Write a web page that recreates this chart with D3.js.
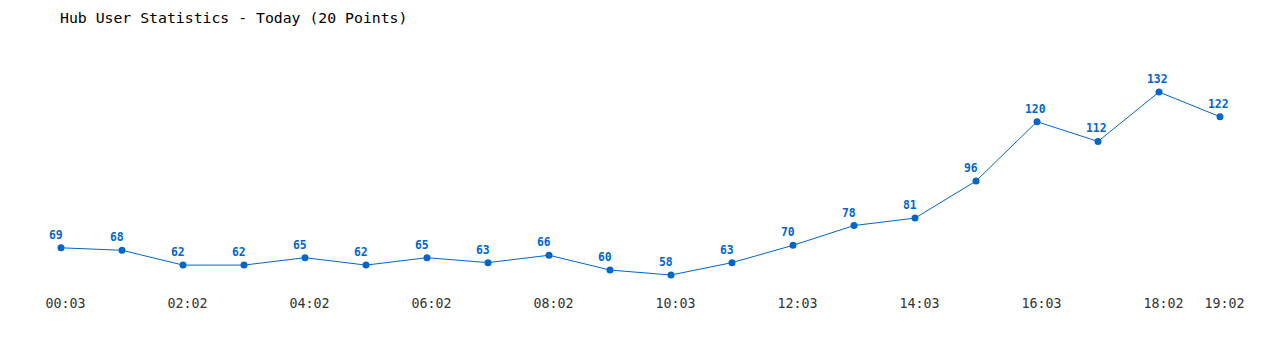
<!DOCTYPE html>
<html>
<head>
<meta charset="utf-8">
<script src="https://cdn.jsdelivr.net/npm/d3@7"></script>
<style>
	body { margin: 0; background: #fff; }
	svg { display: block; }
</style>
</head>
<body>
<svg id="chart"></svg>
<script>
// users counted at each sample point today
const USERS = [69, 68, 62, 62, 65, 62, 65, 63, 66, 60, 58, 63, 70, 78, 81, 96, 120, 112, 132, 122];
// which points get a time label on the x axis
const TICK_INDEX = [0, 2, 4, 6, 8, 10, 12, 14, 16, 18, 19];
const TICK_LABELS = ["00:03", "02:02", "04:02", "06:02", "08:02", "10:03", "12:03", "14:03", "16:03", "18:02", "19:02"];
const TITLE = "Hub User Statistics - Today (20 Points)";

const width = 1280;
const height = 350;
const blue = "#0066cc";
const mono = "'DejaVu Sans Mono', 'Liberation Mono', monospace";

const svg = d3.select("#chart")
	.attr("width", width)
	.attr("height", height)
	.attr("viewBox", [0, 0, width, height]);

const x = d3.scaleLinear()
	.domain([0, USERS.length - 1])
	.range([61, 1220]);

const y = d3.scaleLinear()
	.domain([d3.min(USERS), d3.max(USERS)])
	.range([275, 92]);

//title
svg.append("text")
	.attr("x", 60)
	.attr("y", 23)
	.attr("font-family", mono)
	.attr("font-size", 14.8)
	.attr("fill", "#000")
	.text(TITLE);

//x axis labels (no axis line in the original)
const xAxis = svg.append("g")
	.attr("transform", "translate(0, 308)")
	.call(d3.axisBottom(x)
		.tickValues(TICK_INDEX)
		.tickFormat((d, i) => TICK_LABELS[i])
		.tickSize(0)
		.tickPadding(0));
xAxis.select(".domain").remove();
xAxis.selectAll("text")
	.attr("dy", 0)
	.attr("dx", 4)
	.attr("font-family", mono)
	.attr("font-size", 13.3)
	.attr("fill", "#333");

//line
const line = d3.line()
	.x((d, i) => x(i))
	.y((d) => y(d));

svg.append("path")
	.datum(USERS)
	.attr("fill", "none")
	.attr("stroke", blue)
	.attr("stroke-width", 1)
	.attr("d", line);

//points
svg.append("g")
	.selectAll("circle")
	.data(USERS)
	.join("circle")
	.attr("cx", (d, i) => x(i))
	.attr("cy", (d) => y(d))
	.attr("r", 3.5)
	.attr("fill", blue);

//value labels
svg.append("g")
	.selectAll("text")
	.data(USERS)
	.join("text")
	.attr("x", (d, i) => x(i) - 12)
	.attr("y", (d) => y(d) - 9)
	.attr("font-family", mono)
	.attr("font-size", 11.4)
	.attr("font-weight", "bold")
	.attr("fill", blue)
	.text((d) => d);
</script>
</body>
</html>
